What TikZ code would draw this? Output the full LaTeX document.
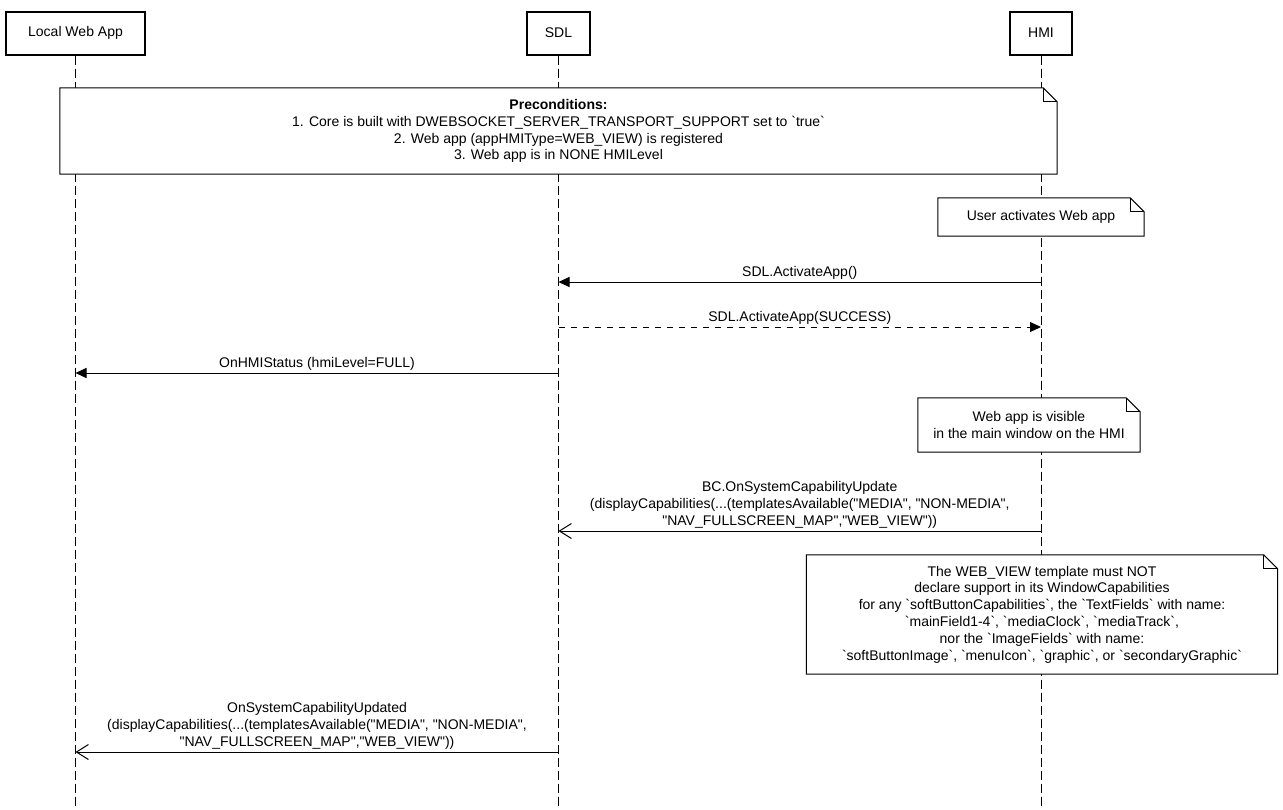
\documentclass[tikz,border=0pt]{standalone}
\usepackage{fontspec}
\setmainfont{Liberation Sans}[Ligatures=TeXOff]
\usetikzlibrary{arrows.meta}
\pgfdeclarelayer{bg}
\pgfdeclarelayer{mid}
\pgfsetlayers{bg,mid,main}
\tikzset{
  actor/.style={draw, line width=2pt, minimum height=43pt, inner sep=0pt},
  lifeline/.style={draw, line width=1pt, dash pattern=on 9pt off 4pt},
  notebox/.style={align=center, inner sep=0pt},
  notedraw/.style={draw, fill=white, line width=1pt, line join=miter},
  callfill/.style={-{Triangle[length=11pt,width=10pt]}, line width=1pt},
  callopen/.style={-{Straight Barb[length=12pt,width=15pt,line width=1pt]}, line width=1pt},
  reply/.style={callfill, dash pattern=on 6pt off 6pt},
  msglabel/.style={anchor=south, inner sep=0pt, yshift=2.5pt, align=center}
}
\newcommand\foldoutline[1]{%
  \begin{pgfonlayer}{mid}
    \draw[notedraw] (#1.north west) -- ([xshift=-14pt]#1.north east) -- ([yshift=-14pt]#1.north east) -- (#1.south east) -- (#1.south west) -- cycle;
    \draw[line width=1pt] ([xshift=-14pt]#1.north east) |- ([yshift=-14pt]#1.north east);
  \end{pgfonlayer}}
\begin{document}
\begin{tikzpicture}[x=1pt, y=-1pt, font=\fontsize{14pt}{16.8pt}\selectfont]
\useasboundingbox (0,0) rectangle (1283,809);
\begin{pgfonlayer}{bg}
  \fill[white] (0,0) rectangle (1283,809);
\end{pgfonlayer}

% actors
\node[actor, minimum width=139pt] (lwa) at (75.5,33) {Local Web App};
\node[actor, minimum width=63pt] (sdl) at (558.5,33) {SDL};
\node[actor, minimum width=62pt] (hmi) at (1041,33) {HMI};

\coordinate (bottom) at (0,809);
\begin{pgfonlayer}{bg}
  \draw[lifeline] (lwa.south) -- (lwa.south |- bottom);
  \draw[lifeline] (sdl.south) -- (sdl.south |- bottom);
  \draw[lifeline] (hmi.south) -- (hmi.south |- bottom);
\end{pgfonlayer}

% notes
\node[notebox, minimum width=997pt, minimum height=86pt] (pre) at (558.5,131)
  {\textbf{Preconditions:}\\
   1. Core is built with DWEBSOCKET\_SERVER\_TRANSPORT\_SUPPORT set to `true`\\
   2. Web app (appHMIType=WEB\_VIEW) is registered\\
   3. Web app is in NONE HMILevel};
\foldoutline{pre}

\node[notebox, minimum width=206pt, minimum height=38pt] (user) at (1041,217) {User activates Web app};
\foldoutline{user}

\node[notebox, minimum width=222pt, minimum height=54pt] (vis) at (1029,425)
  {Web app is visible\\ in the main window on the HMI};
\foldoutline{vis}

\node[notebox, minimum width=471pt, minimum height=119pt] (wv) at (1042,614.5)
  {The WEB\_VIEW template must NOT\\
   declare support in its WindowCapabilities\\
   for any `softButtonCapabilities`, the `TextFields` with name:\\
   `mainField1-4`, `mediaClock`, `mediaTrack`,\\
   nor the `ImageFields` with name:\\
   `softButtonImage`, `menuIcon`, `graphic`, or `secondaryGraphic`};
\foldoutline{wv}

% message end points
\coordinate (m1a) at (hmi |- 0,282);  \coordinate (m1b) at (sdl |- 0,282);
\coordinate (m2a) at (sdl |- 0,327);  \coordinate (m2b) at (hmi |- 0,327);
\coordinate (m3a) at (sdl |- 0,373);  \coordinate (m3b) at (lwa |- 0,373);
\coordinate (m4a) at (hmi |- 0,531);  \coordinate (m4b) at (sdl |- 0,531);
\coordinate (m5a) at (sdl |- 0,752);  \coordinate (m5b) at (lwa |- 0,752);

\draw[callfill] (m1a) -- (m1b) node[msglabel, pos=0.5] {SDL.ActivateApp()};
\draw[reply] (m2a) -- (m2b) node[msglabel, pos=0.5] {SDL.ActivateApp(SUCCESS)};
\draw[callfill] (m3a) -- (m3b) node[msglabel, pos=0.5] {OnHMIStatus (hmiLevel=FULL)};
\draw[callopen] (m4a) -- (m4b) node[msglabel, pos=0.5]
  {BC.OnSystemCapabilityUpdate\\
   (displayCapabilities(...(templatesAvailable("MEDIA", "NON-MEDIA",\\
   "NAV\_FULLSCREEN\_MAP","WEB\_VIEW"))};
\draw[callopen] (m5a) -- (m5b) node[msglabel, pos=0.5]
  {OnSystemCapabilityUpdated\\
   (displayCapabilities(...(templatesAvailable("MEDIA", "NON-MEDIA",\\
   "NAV\_FULLSCREEN\_MAP","WEB\_VIEW"))};
\end{tikzpicture}
\end{document}
